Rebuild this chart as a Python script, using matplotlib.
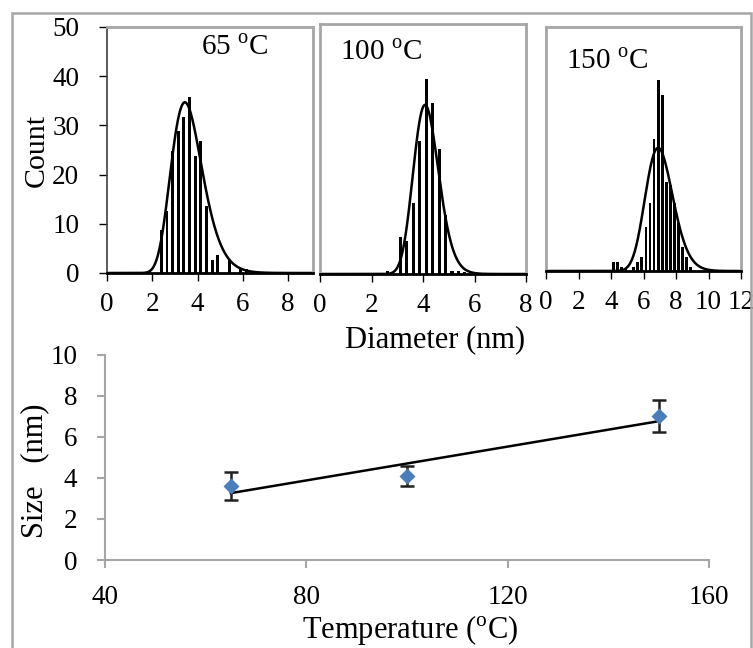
import numpy as np
import matplotlib as mpl
mpl.use('Agg')
from matplotlib import pyplot as plt
from matplotlib.patches import Rectangle

# -- histogram data (bar centre in nm, count) --
d65 = [2.40, 2.65, 2.90, 3.15, 3.40, 3.65, 3.90, 4.15, 4.40, 4.65, 4.90, 5.15, 5.40, 5.65, 5.90, 6.15]
c65 = [8.7, 12.7, 24.7, 28.8, 31.8, 35.8, 23.8, 26.9, 13.7, 2.7, 3.7, 0, 2.6, 0, 0.8, 0.8]

d100 = [2.625, 2.875, 3.125, 3.375, 3.625, 3.875, 4.125, 4.375, 4.625, 4.875, 5.125, 5.375, 5.625]
c100 = [0.7, 0, 7.6, 6.6, 14.4, 27.0, 39.6, 34.7, 25.3, 12.0, 0.7, 0.7, 0.4]

d150 = [4.15, 4.40, 4.65, 4.90, 5.15, 5.40, 5.65, 5.90, 6.15, 6.40,
        6.65, 6.90, 7.15, 7.40, 7.65, 7.90, 8.15, 8.40, 8.65, 8.90]
c150 = [1.9, 1.9, 0.9, 0.7, 0, 0.9, 1.9, 2.9, 9.0, 13.8,
        26.8, 38.8, 35.8, 18.0, 17.5, 13.7, 9.7, 4.9, 2.9, 0.9]

# log-normal fit: (peak count, mode nm, log sigma)
fit65 = (34.7, 3.44, 0.20)
fit100 = (34.3, 4.08, 0.12)
fit150 = (25.0, 6.90, 0.122)

titles = ["65", "100", "150"]

# -- size vs temperature --
temps = [65, 100, 150]
sizes = [3.62, 4.10, 7.02]
errs = [0.68, 0.50, 0.80]

GRAY = '#a6a6a6'
W, H = 753, 648


def lognorm_curve(x, peak, mode, s):
    mu = np.log(mode) + s**2
    return peak * (mode / x) * np.exp(-((np.log(x) - mu)**2 - (np.log(mode) - mu)**2) / (2 * s**2))


def box(l, t, r, b):
    # pixel box -> figure fraction
    return [l / W, 1 - b / H, (r - l) / W, (b - t) / H]


def main():
    plt.rcParams['font.family'] = ['Liberation Serif', 'DejaVu Serif']
    plt.rcParams['mathtext.fontset'] = 'custom'
    plt.rcParams['mathtext.rm'] = 'Liberation Serif'
    fs = 19.5
    lfs = 22

    fig = plt.figure(figsize=(W / 100, H / 100), dpi=100)

    # outer border
    fig.patches.append(Rectangle((12 / W, -0.05), 739 / W, 1 - 13 / H + 0.05,
                                 transform=fig.transFigure, fill=False,
                                 edgecolor=GRAY, lw=1.8))

    panels = [
        (d65, c65, fit65, (107, 27, 313, 273), 9.1, 50, [0, 2, 4, 6, 8], 0.13, (235, 48)),
        (d100, c100, fit100, (320, 24, 526, 274), 8.0, 50.7, [0, 2, 4, 6, 8], 0.12, (381, 53)),
        (d150, c150, fit150, (546, 27, 741, 271), 12.0, 49.5, [0, 2, 4, 6, 8, 10, 12], 0.17, (607, 62)),
    ]
    for i, (d, c, fit, px, xmax, ymax, xt, bw, tpos) in enumerate(panels):
        ax = fig.add_axes(box(*px))
        ax.bar(d, c, width=bw, color='black')
        x = np.linspace(0.05, xmax, 400)
        ax.plot(x, lognorm_curve(x, *fit), color='black', lw=1.8)
        ax.set_xlim(0, xmax)
        ax.set_ylim(0, ymax)
        ax.set_xticks(xt)
        ax.tick_params(axis='x', direction='out', length=6, width=1, pad=8, labelsize=fs)
        for sp in ['top', 'right', 'left']:
            ax.spines[sp].set_color(GRAY)
            ax.spines[sp].set_linewidth(2)
        ax.spines['bottom'].set_color('black')
        ax.spines['bottom'].set_linewidth(2)
        if i == 0:
            ax.set_yticks([0, 10, 20, 30, 40, 50])
            ax.tick_params(axis='y', direction='out', length=6, width=1, pad=14, labelsize=fs)
            ax.spines['left'].set_color('#404040')
            ax.spines['left'].set_linewidth(1.2)
        else:
            ax.set_yticks([])
        fig.text(tpos[0] / W, 1 - tpos[1] / H, titles[i] + r" $^{\mathrm{o}}$C",
                 ha='center', va='center', fontsize=lfs - 1)

    fig.text(37 / W, 1 - 150 / H, "Count", rotation=90, ha='center', va='center', fontsize=lfs - 0.5)
    fig.text(435 / W, 1 - 340 / H, "Diameter (nm)", ha='center', va='center', fontsize=lfs)

    # -- size vs temperature --
    ax = fig.add_axes(box(105, 355, 709, 560))
    ax.errorbar(temps, sizes, yerr=errs, fmt='none', ecolor='#202020',
                elinewidth=1.8, capsize=5, capthick=1.8, zorder=2)
    ax.plot(temps, sizes, 'D', color='#4a7ebb', ms=8.5, mec='none', zorder=3)
    k, b = np.polyfit(temps, sizes, 1)
    tx = np.array([temps[0], temps[-1]])
    ax.plot(tx, k * tx + b, color='black', lw=1.8, zorder=2)
    ax.set_xlim(40, 160)
    ax.set_ylim(0, 10)
    ax.set_xticks([40, 80, 120, 160])
    ax.set_yticks([0, 2, 4, 6, 8, 10])
    for sp in ['top', 'right']:
        ax.spines[sp].set_visible(False)
    for sp in ['left', 'bottom']:
        ax.spines[sp].set_color(GRAY)
        ax.spines[sp].set_linewidth(1.5)
    ax.tick_params(axis='both', direction='out', length=6, width=1.5, color=GRAY, labelsize=fs)
    ax.tick_params(axis='x', pad=12)
    ax.tick_params(axis='y', pad=14)

    fig.text(35 / W, 1 - 471 / H, "Size   (nm)", rotation=90, ha='center', va='center', fontsize=lfs)
    fig.text(410 / W, 1 - 630 / H, r"Temperature ($^{\mathrm{o}}$C)", ha='center', va='center', fontsize=lfs)

    plt.savefig("out.png", dpi=100)


if __name__ == "__main__":
    main()
